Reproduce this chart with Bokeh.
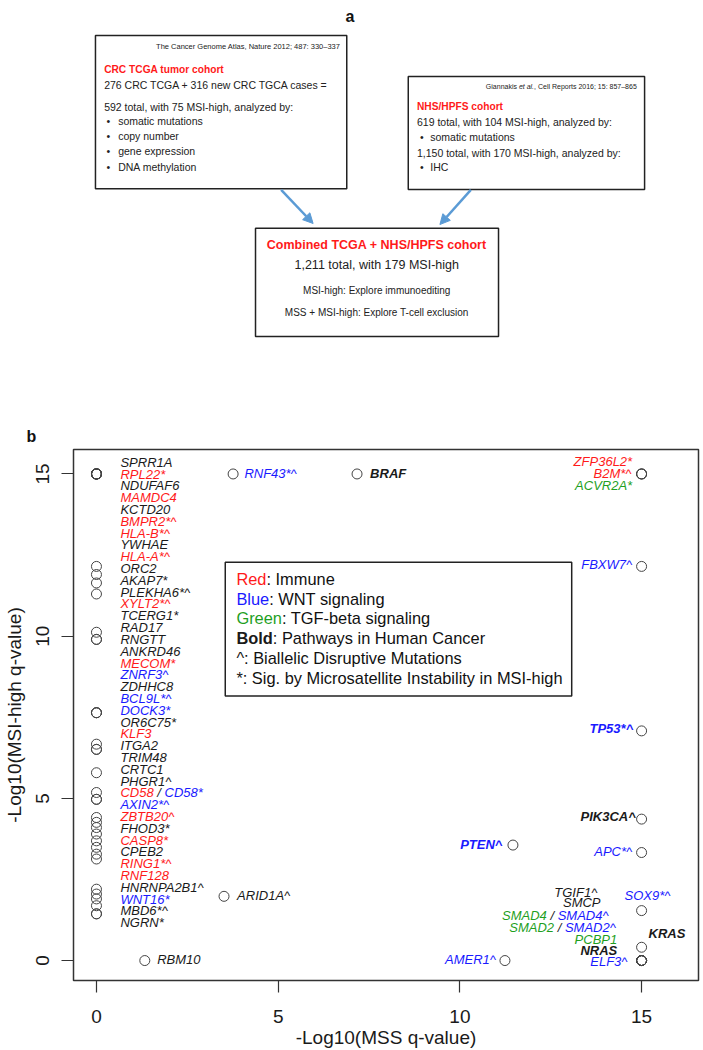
import math
from bokeh.plotting import figure
from bokeh.layouts import column
from bokeh.models import Range1d, FixedTicker, Arrow, NormalHead, ColumnDataSource
from bokeh.core.properties import value
from bokeh.embed import file_html
from bokeh.resources import INLINE

FONT = "Liberation Sans"

# ---------------- data: panel b ----------------
left_genes = ["SPRR1A", "RPL22*", "NDUFAF6", "MAMDC4", "KCTD20", "BMPR2*^", "HLA-B*^",
              "YWHAE", "HLA-A*^", "ORC2", "AKAP7*", "PLEKHA6*^", "XYLT2*^", "TCERG1*",
              "RAD17", "RNGTT", "ANKRD46", "MECOM*", "ZNRF3^", "ZDHHC8", "BCL9L*^",
              "DOCK3*", "OR6C75*", "KLF3", "ITGA2", "TRIM48", "CRTC1", "PHGR1^",
              "CD58 / CD58*", "AXIN2*^", "ZBTB20^", "FHOD3*", "CASP8*", "CPEB2",
              "RING1*^", "RNF128", "HNRNPA2B1^", "WNT16*", "MBD6*^", "NGRN*"]
left_group = ["other", "immune", "other", "immune", "other", "immune", "immune",
              "other", "immune", "other", "other", "other", "immune", "other",
              "other", "other", "other", "immune", "wnt", "other", "wnt",
              "wnt", "other", "immune", "other", "other", "other", "other",
              "immune/wnt", "wnt", "immune", "other", "immune", "other",
              "immune", "immune", "other", "wnt", "other", "other"]
left_mss = [0, 0, 0, 0, 0, 0, 0, 0, 0, 0, 0, 0, 0, 0, 0, 0, 0, 0, 0, 0,
            0, 0, 0, 0, 0, 0, 0, 0, 0, 0, 0, 0, 0, 0, 0, 0, 0, 0, 0, 0]
left_msi = [15, 15, 15, 15, 15, 15, 15, 15, 15,
            12.15, 11.9, 11.64, 11.3, 10.12, 9.9, 9.9, 7.64, 7.64, 7.64, 6.67,
            6.51, 6.51, 5.79, 5.18, 4.97, 4.97, 4.41, 4.26, 4.10, 3.9,
            3.69, 3.49, 3.28, 3.13, 2.2, 2.05, 1.9, 1.69, 1.44, 1.44]

other_genes = ["RBM10", "ARID1A^", "RNF43*^", "BRAF", "ZFP36L2*", "B2M*^", "ACVR2A*",
               "FBXW7^", "TP53*^", "PIK3CA^", "PTEN^", "APC*^", "SOX9*^", "TGIF1^",
               "SMCP", "SMAD4 / SMAD4^", "SMAD2 / SMAD2^", "PCBP1", "KRAS", "NRAS",
               "ELF3^", "AMER1^"]
other_group = ["other", "other", "wnt", "other", "immune", "immune", "tgf",
               "wnt", "wnt", "other", "wnt", "wnt", "wnt", "other",
               "other", "tgf/wnt", "tgf/wnt", "tgf", "other", "other",
               "wnt", "wnt"]
other_bold = [False, False, False, True, False, False, False,
              False, True, True, True, False, False, False,
              False, False, False, False, True, True,
              False, False]
other_mss = [1.33, 3.51, 3.76, 7.17, 15, 15, 15,
             15, 15, 15, 11.46, 15, 15, 15,
             15, 15, 15, 15, 15, 15,
             15, 11.24]
other_msi = [0, 1.98, 15, 15, 15, 15, 15,
             12.15, 7.08, 4.36, 3.56, 3.33, 1.54, 0,
             0, 0, 0, 0, 0.41, 0,
             0, 0]

x_ticks = [0, 5, 10, 15]
y_ticks = [0, 5, 10, 15]
x_title = "-Log10(MSS q-value)"
y_title = "-Log10(MSI-high q-value)"

legend_items = [("Red", "immune", False, ": Immune"),
                ("Blue", "wnt", False, ": WNT signaling"),
                ("Green", "tgf", False, ": TGF-beta signaling"),
                ("Bold", "other", True, ": Pathways in Human Cancer"),
                ("^", "other", False, ": Biallelic Disruptive Mutations"),
                ("*", "other", False, ": Sig. by Microsatellite Instability in MSI-high")]

# ---------------- styling ----------------
COL = {"immune": "#FF1A1A", "wnt": "#1A1AFF", "tgf": "#1F9F1F", "other": "#1A1A1A"}
GENE_FS = 13.0

# label anchors (text annotation layout, data units)
LEFT_COL_X = 0.66
LEFT_COL_TOP = 15.36
LEFT_COL_STEP = 0.364
label_anchor = {
    "RBM10": (1.67, 0.02, "left"), "ARID1A^": (3.87, 2.0, "left"),
    "RNF43*^": (4.07, 15.0, "left"), "BRAF": (7.53, 15.0, "left"),
    "ZFP36L2*": (14.74, 15.38, "right"), "B2M*^": (14.72, 15.0, "right"),
    "ACVR2A*": (14.74, 14.65, "right"), "FBXW7^": (14.74, 12.22, "right"),
    "TP53*^": (14.77, 7.15, "right"), "PIK3CA^": (14.84, 4.44, "right"),
    "PTEN^": (11.17, 3.59, "right"), "APC*^": (14.74, 3.36, "right"),
    "SOX9*^": (15.16, 2.02, "center"), "TGIF1^": (13.78, 2.10, "right"),
    "SMCP": (13.87, 1.78, "right"), "SMAD4 / SMAD4^": (14.09, 1.38, "right"),
    "SMAD2 / SMAD2^": (14.29, 1.01, "right"), "PCBP1": (14.33, 0.64, "right"),
    "KRAS": (15.19, 0.84, "left"), "NRAS": (14.33, 0.31, "right"),
    "ELF3^": (14.61, -0.02, "right"), "AMER1^": (10.99, 0.03, "right"),
}

# ---------------- text width helper (Arial metrics) ----------------
AW = {" ": 278, "!": 278, "*": 389, "+": 584, ",": 278, "-": 333, ".": 278, "/": 278,
      ":": 278, ";": 278, "=": 584, "^": 469, "(": 333, ")": 333, "\u2013": 556, "\u2022": 350}
AWB = {" ": 278, "!": 333, "*": 389, "+": 584, ",": 278, "-": 333, ".": 278, "/": 278,
       ":": 333, ";": 333, "=": 584, "^": 584, "(": 333, ")": 333, "\u2013": 556}
for d in "0123456789":
    AW[d] = 556
    AWB[d] = 556
for c, w in zip("ABCDEFGHIJKLMNOPQRSTUVWXYZ",
                [667, 667, 722, 722, 667, 611, 778, 722, 278, 500, 667, 556, 833, 722, 778, 667, 778, 722, 667, 611, 722, 667, 944, 667, 667, 611]):
    AW[c] = w
for c, w in zip("abcdefghijklmnopqrstuvwxyz",
                [556, 556, 500, 556, 556, 278, 556, 556, 222, 222, 500, 222, 833, 556, 556, 556, 556, 333, 500, 278, 556, 500, 722, 500, 500, 500]):
    AW[c] = w
for c, w in zip("ABCDEFGHIJKLMNOPQRSTUVWXYZ",
                [722, 722, 722, 722, 667, 611, 778, 722, 278, 556, 722, 611, 833, 722, 778, 667, 778, 722, 667, 611, 722, 667, 944, 667, 667, 611]):
    AWB[c] = w
for c, w in zip("abcdefghijklmnopqrstuvwxyz",
                [556, 611, 556, 611, 556, 333, 611, 611, 278, 278, 556, 278, 889, 611, 611, 611, 611, 389, 556, 333, 611, 556, 778, 556, 556, 500]):
    AWB[c] = w


def tw(s, size, bold=False):
    t = AWB if bold else AW
    return sum(t.get(c, 556) for c in s) * size / 1000.0


# layout constants (canvas pixels)
W = 703
HA = 420
HB = 630
FL, FR = 72, 5          # frame borders shared by both panels (column aligns frames)

# ================= panel a (flow chart) =================
pa = figure(width=W, height=HA, x_range=Range1d(FL, W - FR), y_range=Range1d(HA, 0),
            output_backend="svg", toolbar_location=None,
            min_border_left=FL, min_border_right=FR, min_border_top=0, min_border_bottom=0,
            x_axis_location=None, y_axis_location=None)
pa.grid.visible = False
pa.outline_line_color = None

DARK = "#222222"
RED = "#FF1A1A"
pa.quad(left=[94, 407.3, 254.3], right=[345.7, 644, 497.7], top=[35, 76, 227.7],
        bottom=[188.3, 189, 336], fill_color=None, line_color=DARK, line_width=1.5)


def atext(x, y, s, size, color=DARK, style="normal", align="left", baseline="middle"):
    pa.text(x=[x], y=[y], text=[s], text_font=value(FONT), text_font_size=f"{size}px",
            text_color=color, text_font_style=style, text_align=align, text_baseline=baseline)


BFS = 10.5
atext(339.3, 46, "The Cancer Genome Atlas, Nature 2012; 487: 330\u2013337", 7.5, align="right")
atext(102.7, 69, "CRC TCGA tumor cohort", 10.2, RED, "bold")
atext(102.7, 84.3, "276 CRC TCGA + 316 new CRC TGCA cases =", BFS)
atext(102.7, 106, "592 total, with 75 MSI-high, analyzed by:", BFS)
for yy, s in zip([120.7, 135.8, 150.9, 166], ["somatic mutations", "copy number", "gene expression", "DNA methylation"]):
    atext(105, yy, "\u2022", BFS)
    atext(116.7, yy, s, BFS)

# citation 2 with italic "et al."
cit2_tail = ", Cell Reports 2016; 15: 857\u2013865"
cw = tw("Giannakis ", 7) + tw("et al.", 7) + tw(cit2_tail, 7)
cx = 636 - cw
atext(cx, 85.7, "Giannakis", 7)
cx += tw("Giannakis ", 7)
atext(cx, 85.7, "et al.", 7, style="italic")
cx += tw("et al.", 7)
atext(cx, 85.7, cit2_tail, 7)

atext(416, 105.7, "NHS/HPFS cohort", 10.2, RED, "bold")
atext(416, 121.7, "619 total, with 104 MSI-high, analyzed by:", BFS)
atext(419, 136.7, "\u2022", BFS)
atext(429.3, 136.7, "somatic mutations", BFS)
atext(416, 152.3, "1,150 total, with 170 MSI-high, analyzed by:", BFS)
atext(419, 166, "\u2022", BFS)
atext(429.3, 166, "IHC", BFS)

atext(375.7, 244.3, "Combined TCGA + NHS/HPFS cohort", 12.5, RED, "bold", "center")
atext(375.7, 264, "1,211 total, with 179 MSI-high", 12.5, align="center")
atext(375.7, 290, "MSI-high: Explore immunoediting", 10, align="center")
atext(375.7, 311.7, "MSS + MSI-high: Explore T-cell exclusion", 10, align="center")

ARROW = "#5B9BD5"
for xs, ys, xe, ye in [(280, 189.3, 312, 223), (470, 189.3, 439, 224)]:
    pa.add_layout(Arrow(end=NormalHead(size=10, fill_color=ARROW, line_color=ARROW),
                        x_start=xs, y_start=ys, x_end=xe, y_end=ye,
                        line_color=ARROW, line_width=2.5))

atext(349, 16, "a", 16, "#111111", "bold", "center", "alphabetic")

# ================= panel b (scatter) =================
X0, X1 = -0.632, 16.566
Y0, Y1 = -0.615, 15.754
pb = figure(width=W, height=HB, x_range=Range1d(X0, X1), y_range=Range1d(Y0, Y1),
            output_backend="svg", toolbar_location=None, title="b",
            min_border_left=FL, min_border_right=FR, min_border_top=28, min_border_bottom=70)
pb.title.text_font = FONT
pb.title.text_font_size = "16px"
pb.title.text_font_style = "bold"
pb.title.text_color = "#111111"
pb.title.align = "left"
pb.title.offset = -47
pb.title.standoff = 10
pb.grid.visible = False
pb.outline_line_color = "#333333"
pb.outline_line_width = 1.5
for ax, tk in ((pb.xaxis[0], x_ticks), (pb.yaxis[0], y_ticks)):
    ax.ticker = FixedTicker(ticks=tk)
    ax.axis_line_color = None
    ax.major_tick_out = 12
    ax.major_tick_in = 0
    ax.minor_tick_out = 0
    ax.minor_tick_in = 0
    ax.major_tick_line_color = "#333333"
    ax.major_tick_line_width = 1.2
    ax.major_label_text_font = FONT
    ax.major_label_text_font_size = "19px"
    ax.major_label_text_color = "#1a1a1a"
    ax.axis_label_text_font = FONT
    ax.axis_label_text_font_size = "19px"
    ax.axis_label_text_font_style = "normal"
    ax.axis_label_text_color = "#1a1a1a"
pb.xaxis.axis_label = x_title
pb.yaxis.axis_label = y_title
pb.xaxis.major_label_standoff = 17
pb.xaxis.axis_label_standoff = 1
pb.yaxis.major_label_standoff = 12
pb.yaxis.axis_label_standoff = 9
pb.yaxis.major_label_orientation = "vertical"

# points
pts = ColumnDataSource(dict(mss=left_mss + other_mss, msi=left_msi + other_msi))
pb.scatter(x="mss", y="msi", source=pts, marker="circle", size=10, fill_color=None,
           line_color="#444444", line_width=1)

# gene labels (pieces)
lx, ly, lt, lc, lo, ls = [], [], [], [], [], []


def add_label(ax_, ay_, label, group, bold, align):
    names = label.split(" / ")
    groups = group.split("/")
    pieces = []  # (text, group, width, leading)
    for i, (n, g) in enumerate(zip(names, groups)):
        if i > 0:
            pieces.append(("/", "other", tw(" / ", GENE_FS, bold), tw(" ", GENE_FS, bold)))
        pieces.append((n, g, tw(n, GENE_FS, bold), 0.0))
    wtot = sum(p[2] for p in pieces)
    start = {"left": 0.0, "right": -wtot, "center": -wtot / 2}[align]
    cum = start
    for s, g, wd, lead in pieces:
        lx.append(ax_)
        ly.append(ay_)
        lt.append(s)
        lc.append(COL[g])
        lo.append(cum + lead)
        ls.append("bold italic" if bold else "italic")
        cum += wd


for i, (g, grp) in enumerate(zip(left_genes, left_group)):
    add_label(LEFT_COL_X, LEFT_COL_TOP - i * LEFT_COL_STEP, g, grp, False, "left")
for g, grp, b in zip(other_genes, other_group, other_bold):
    axx, ayy, al = label_anchor[g]
    add_label(axx, ayy, g, grp, b, al)

lsrc = ColumnDataSource(dict(x=lx, y=ly, txt=lt, tcol=lc, xoff=lo, fst=ls))
pb.text(x="x", y="y", text="txt", source=lsrc, text_color="tcol", x_offset="xoff",
        text_font_style="fst", text_font=value(FONT), text_font_size=f"{GENE_FS}px",
        text_align="left", text_baseline="middle")

# legend box
LEG_L, LEG_R, LEG_T, LEG_B = 3.544, 13.077, 12.277, 8.154
pb.quad(left=[LEG_L], right=[LEG_R], top=[LEG_T], bottom=[LEG_B], fill_color="white",
        line_color="#222222", line_width=1.5)
LEG_FS = 16.4
gx, gy, gt, gc, go, gs = [], [], [], [], [], []
for i, (key, grp, bold, rest) in enumerate(legend_items):
    yy = 11.763 - i * 0.609
    gx += [3.85, 3.85]
    gy += [yy, yy]
    gt += [key, rest]
    gc += [COL[grp], "#111111"]
    go += [0.0, tw(key, LEG_FS, bold)]
    gs += ["bold" if bold else "normal", "normal"]
gsrc = ColumnDataSource(dict(x=gx, y=gy, txt=gt, tcol=gc, xoff=go, fst=gs))
pb.text(x="x", y="y", text="txt", source=gsrc, text_color="tcol", x_offset="xoff",
        text_font_style="fst", text_font=value(FONT), text_font_size=f"{LEG_FS}px",
        text_align="left", text_baseline="middle")

layout = column(pa, pb)
open("out.html", "w").write(file_html(layout, INLINE))
